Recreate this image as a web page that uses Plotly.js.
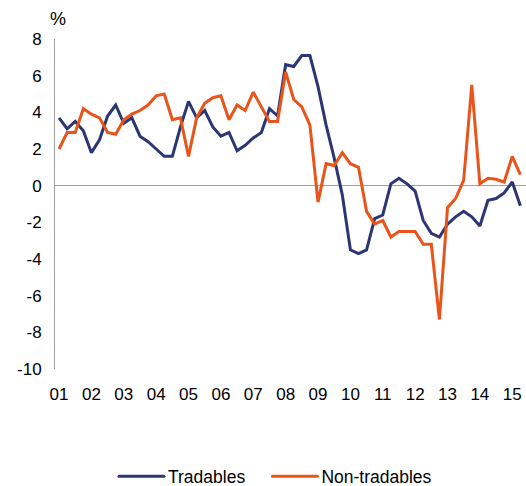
<!DOCTYPE html>
<html>
<head>
<meta charset="utf-8">
<script src="https://cdn.plot.ly/plotly-3.0.1.min.js"></script>
<style>
  html, body { margin: 0; padding: 0; background: #fff; }
  #chart { width: 526px; height: 486px; }
</style>
</head>
<body>
<div id="chart"></div>
<script>
  // quarterly, 2001 Q1 .. 2015 Q2
  const yearLabels = ["01", "02", "03", "04", "05", "06", "07", "08", "09", "10", "11", "12", "13", "14", "15"];
  const yTicks = [-10, -8, -6, -4, -2, 0, 2, 4, 6, 8];
  const yTickText = ["-10", "-8", "-6", "-4", "-2", "0", "2", "4", "6", "8"];

  const tradables = [
    3.7, 3.1, 3.5, 3.0, 1.8, 2.5, 3.8, 4.4, 3.4, 3.7,
    2.7, 2.4, 2.0, 1.6, 1.6, 3.2, 4.6, 3.7, 4.1, 3.2,
    2.7, 2.9, 1.9, 2.2, 2.6, 2.9, 4.2, 3.8, 6.6, 6.5,
    7.1, 7.1, 5.4, 3.3, 1.5, -0.5, -3.5, -3.7, -3.5, -1.8,
    -1.6, 0.1, 0.4, 0.1, -0.3, -1.9, -2.6, -2.8, -2.1, -1.7,
    -1.4, -1.7, -2.2, -0.8, -0.7, -0.4, 0.2, -1.1
  ];

  const nonTradables = [
    2.0, 2.9, 2.9, 4.2, 3.9, 3.7, 2.9, 2.8, 3.6, 3.9,
    4.1, 4.4, 4.9, 5.0, 3.6, 3.7, 1.6, 3.7, 4.5, 4.8,
    4.9, 3.6, 4.4, 4.1, 5.1, 4.3, 3.5, 3.5, 6.2, 4.7,
    4.3, 3.3, -0.9, 1.2, 1.1, 1.8, 1.2, 1.0, -1.4, -2.1,
    -1.9, -2.8, -2.5, -2.5, -2.5, -3.2, -3.2, -7.3, -1.2, -0.7,
    0.3, 5.5, 0.1, 0.4, 0.35, 0.2, 1.6, 0.6
  ];

  const quarters = tradables.map((_, i) => i);
  const tickPos = yearLabels.map((_, i) => i * 4);

  const font = "Liberation Sans, Arial, sans-serif";

  const data = [
    {
      type: "scatter", mode: "lines", name: "Tradables",
      x: quarters, y: tradables,
      line: { color: "#2B3674", width: 3 }
    },
    {
      type: "scatter", mode: "lines", name: "Non-tradables",
      x: quarters, y: nonTradables,
      line: { color: "#E9541A", width: 3 }
    }
  ];

  const layout = {
    width: 526, height: 486,
    margin: { l: 55, r: 0, t: 39, b: 117, autoexpand: false },
    paper_bgcolor: "#fff", plot_bgcolor: "#fff",
    font: { family: font, size: 17, color: "#000" },
    showlegend: true,
    legend: {
      orientation: "h", x: 0.467, xanchor: "center",
      y: -0.325, yanchor: "middle",
      font: { family: font, size: 17.5, color: "#000" }
    },
    xaxis: {
      range: [-0.5, 57.7],
      tickvals: tickPos, ticktext: yearLabels,
      showgrid: false, zeroline: false, showline: false,
      ticks: "outside", ticklen: 10, tickcolor: "rgba(0,0,0,0)",
      fixedrange: true
    },
    yaxis: {
      range: [-10, 8],
      tickvals: yTicks, ticktext: yTickText,
      showgrid: false,
      zeroline: true, zerolinecolor: "#A0A0A0", zerolinewidth: 1,
      showline: true, linecolor: "#A0A0A0", linewidth: 1,
      ticks: "outside", ticklen: 9, tickcolor: "rgba(0,0,0,0)",
      fixedrange: true
    },
    annotations: [{
      text: "%", xref: "paper", yref: "paper",
      x: 0, y: 1, xanchor: "center", yanchor: "bottom", xshift: 3, yshift: 8,
      showarrow: false, font: { family: font, size: 18, color: "#000" }
    }]
  };

  // longer legend swatches and wider spacing, like the original
  const legendShift = [-8, 23];

  Plotly.newPlot("chart", data, layout, { displayModeBar: false, staticPlot: true }).then(gd => {
    gd.querySelectorAll(".legend [clip-path]").forEach(e => e.removeAttribute("clip-path"));
    gd.querySelectorAll(".legend .traces").forEach((g, i) => {
      const m = /translate\(([-\d.]+),\s*([-\d.]+)\)/.exec(g.getAttribute("transform") || "");
      if (m) g.setAttribute("transform", `translate(${+m[1] + legendShift[i]},${m[2]})`);
      const p = g.querySelector(".legendlines path");
      if (p) {
        p.setAttribute("d", "M-9,0h45");
        p.style.strokeLinecap = "round";
      }
    });
  });
</script>
</body>
</html>
